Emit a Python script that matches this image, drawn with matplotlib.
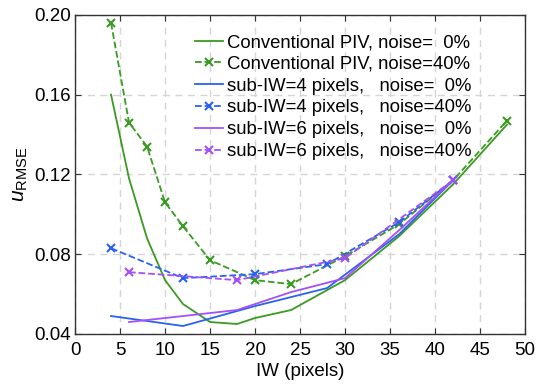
import matplotlib
matplotlib.use("Agg")
import matplotlib.pyplot as plt
import numpy as np

plt.rcParams['font.family'] = ['Liberation Sans', 'DejaVu Sans']
plt.rcParams['mathtext.fontset'] = 'custom'
plt.rcParams['mathtext.rm'] = 'Liberation Sans'
plt.rcParams['mathtext.it'] = 'Liberation Sans:italic'

# conventional PIV
conv_iw_0 = [4, 6, 8, 10, 12, 15, 18, 20, 24, 30, 36, 42, 48]
conv_err_0 = [0.160, 0.118, 0.088, 0.067, 0.055, 0.046, 0.045, 0.048, 0.052, 0.067, 0.089, 0.115, 0.145]
conv_iw_40 = [4, 6, 8, 10, 12, 15, 20, 24, 30, 36, 42, 48]
conv_err_40 = [0.196, 0.146, 0.134, 0.106, 0.094, 0.077, 0.067, 0.065, 0.079, 0.095, 0.117, 0.147]

# sub-IW = 4 pixels
sub4_iw = [4, 12, 20, 28, 36, 42]
sub4_err_0 = [0.049, 0.044, 0.054, 0.063, 0.090, 0.117]
sub4_err_40 = [0.083, 0.068, 0.070, 0.075, 0.096, 0.117]

# sub-IW = 6 pixels
sub6_iw = [6, 12, 18, 24, 30, 36, 42]
sub6_err_0 = [0.046, 0.049, 0.052, 0.061, 0.068, 0.092, 0.117]
sub6_iw_40 = [6, 18, 30, 42]
sub6_err_40 = [0.071, 0.067, 0.078, 0.117]

green = '#3a9a22'
blue = '#2a62f0'
purple = '#a550f5'

fig = plt.figure(figsize=(5.36, 3.87), dpi=100)
ax = fig.add_axes([0.14, 0.137, 0.8395, 0.8245])

ax.plot(conv_iw_0, conv_err_0, '-', color=green, lw=1.3, label='Conventional PIV, noise=  0%')
ax.plot(conv_iw_40, conv_err_40, '--x', color=green, lw=1.3, ms=5.5, mew=1.5, label='Conventional PIV, noise=40%')
ax.plot(sub4_iw, sub4_err_0, '-', color=blue, lw=1.3, label='sub-IW=4 pixels,   noise=  0%')
ax.plot(sub4_iw, sub4_err_40, '--x', color=blue, lw=1.3, ms=5.5, mew=1.5, label='sub-IW=4 pixels,   noise=40%')
ax.plot(sub6_iw, sub6_err_0, '-', color=purple, lw=1.3, label='sub-IW=6 pixels,   noise=  0%')
ax.plot(sub6_iw_40, sub6_err_40, '--x', color=purple, lw=1.3, ms=5.5, mew=1.5, label='sub-IW=6 pixels,   noise=40%')

ax.set_xlim(0, 50)
ax.set_ylim(0.04, 0.20)
ax.set_xticks(np.arange(0, 51, 5))
ax.set_yticks([0.04, 0.08, 0.12, 0.16, 0.20])
ax.set_yticklabels(['0.04', '0.08', '0.12', '0.16', '0.20'])
ax.tick_params(direction='in', top=True, right=True, labelsize=13.5, length=4, color='#333333')
ax.tick_params(axis='x', pad=6)
ax.tick_params(axis='y', pad=3)
ax.grid(True, linestyle=(0, (5, 4)), color='#d5d5d5', linewidth=1)
for s in ax.spines.values():
    s.set_color('#333333')
    s.set_linewidth(1)

ax.set_xlabel('IW (pixels)', fontsize=13.5, labelpad=3)
ax.set_ylabel(r'$u_{\rm RMSE}$', fontsize=15, labelpad=3)

leg = ax.legend(loc='upper left', frameon=False, fontsize=13.3, handlelength=1.5,
                handletextpad=0.2, labelspacing=0.26, borderaxespad=0, borderpad=0,
                bbox_to_anchor=(0.267, 0.94))

fig.savefig('out.png', dpi=100)
